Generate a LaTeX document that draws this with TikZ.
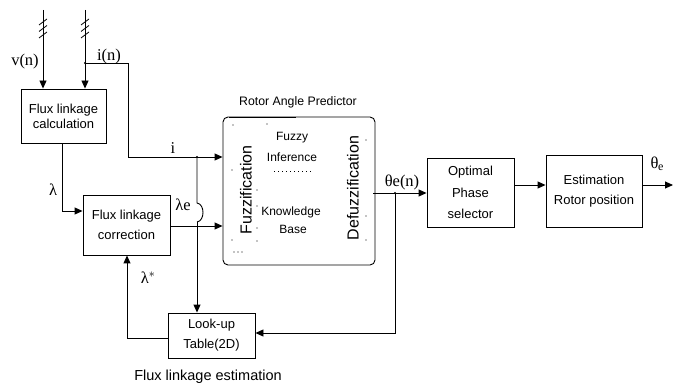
\documentclass[tikz,border=0pt]{standalone}
\usepackage{fontspec}
\setmainfont{Liberation Serif}
\newfontfamily\arialf{Liberation Sans}
\usetikzlibrary{arrows.meta}
\begin{document}
\begin{tikzpicture}[x=1pt,y=-1pt,
  box/.style={draw, line width=0.9pt, font=\arialf\fontsize{13}{20}\selectfont, align=center, inner sep=0pt},
  intext/.style={font=\arialf\fontsize{12}{16}\selectfont, inner sep=0pt},
  rottext/.style={font=\arialf\fontsize{16}{18}\selectfont, inner sep=0pt, rotate=90},
  conn/.style={line width=0.9pt},
  arr/.style={conn, -{Triangle[length=8pt,width=7pt]}},
  lbl/.style={font=\fontsize{16.5}{18}\selectfont, inner sep=0pt},
  hatch/.style={line width=0.8pt},
  jdot/.style={circle, fill, inner sep=0pt, minimum size=2.4pt},
  speck/.style={circle, fill, inner sep=0pt, minimum size=1.3pt},
]
\useasboundingbox (0,0) rectangle (677,387);

% blocks
\node[box, font=\arialf\fontsize{13}{15}\selectfont, minimum width=85pt, minimum height=54pt] (calc) at (63.5,116) {Flux linkage\\calculation};
\node[box, minimum width=87pt, minimum height=60pt] (corr) at (126.5,225) {Flux linkage\\correction};
\node[box, minimum width=87pt, minimum height=45pt] (lut) at (211.5,335.5) {Look-up\\Table(2D)};
\node[box, rounded corners=5pt, minimum width=152pt, minimum height=148pt] (rap) at (299,191) {};
\node[box, font=\arialf\fontsize{13}{21.5}\selectfont, minimum width=87pt, minimum height=69pt] (ops) at (470.5,192.5) {Optimal\\Phase\\selector};
\node[box, minimum width=96pt, minimum height=72pt] (erp) at (594,191) {Estimation\\Rotor position};

% inside rotor angle predictor
\node[rottext] (fuzz) at (246,190) {Fuzzification};
\node[rottext] (defuzz) at (353,188) {Defuzzification};
\node[intext] (fuzzy) at (292,138) {Fuzzy};
\node[intext] (infer) at (292,157) {Inference};
\node[intext] (know) at (291,212) {Knowledge};
\node[intext] (base) at (293,229) {Base};
\draw[line width=1pt, dash pattern=on 1pt off 3pt] (274,172) -- (313,172);
\node[speck] (s1) at (232,170) {};
\node[speck] (s2) at (232,240) {};
\node[speck] (s3) at (257,190) {};
\node[speck] (s4) at (257,206) {};
\node[speck] (s5) at (257,228) {};
\node[speck] (s6) at (257,241) {};
\node[speck] (s7) at (366,140) {};
\node[speck] (s8) at (366,216) {};
\node[speck] (s9) at (366,240) {};
\node[speck] (s10) at (234,252) {};
\node[speck] (s11) at (238,252) {};
\node[speck] (s12) at (242,252) {};
\node[speck] (s13) at (233,125) {};
\node[speck] (s14) at (267,124) {};
\draw[line width=1.3pt] (229,117.6) -- (296,117.6);

% titles
\node[font=\arialf\fontsize{12.3}{14}\selectfont, inner sep=0pt] (raptitle) at (298,102) {Rotor Angle Predictor};
\node[font=\arialf\fontsize{14.5}{16}\selectfont, inner sep=0pt] (estim) at (208,377) {Flux linkage estimation};

% inputs
\coordinate (vtop) at (43,10);
\coordinate (itop) at (85,10);
\draw[arr] (vtop) -- (vtop |- calc.north);
\draw[arr] (itop) -- (itop |- calc.north);
\foreach \xx in {43,85}{
  \draw[hatch] (\xx-4,25) -- (\xx+4,19);
  \draw[hatch] (\xx-4,31.5) -- (\xx+4,25.5);
  \draw[hatch] (\xx-4,38) -- (\xx+4,32);
}
\node[lbl] (vlab) at (25,62) {v(n)};
\node[lbl] (ilab) at (109,57) {i(n)};

% i branch
\coordinate (j1) at (85,63);
\coordinate (c1) at (128,63);
\coordinate (c2) at (128,157);
\coordinate (j2) at (197,157);
\node[jdot] (j1d) at (j1) {};
\node[jdot] (j2d) at (j2) {};
\draw[arr] (j1) -- (c1) -- (c2) -- (c2 -| rap.west);
\node[lbl] (ilab2) at (173,148) {i};

% down to look-up with hop
\coordinate (hopA) at (197,203);
\coordinate (hopB) at (197,222);
\draw[conn] (j2) -- (hopA) .. controls (205,204) and (205,221) .. (hopB);
\draw[arr] (hopB) -- (hopB |- lut.north);

% lambda
\coordinate (c3) at (62,211);
\draw[arr] (calc.south -| c3) -- (c3) -- (c3 -| corr.west);
\node[lbl] (lamlab) at (53,190) {λ};

% lambda e
\coordinate (c4) at (170,226);
\draw[arr] (c4) -- (c4 -| rap.west);
\node[lbl] (lamelab) at (183,205) {λe};

% theta e(n)
\coordinate (c5) at (373,193);
\coordinate (j3) at (395,193);
\node[jdot] (j3d) at (j3) {};
\draw[arr] (c5) -- (c5 -| ops.west);
\node[lbl] (thlab) at (402,182) {θe(n)};
\coordinate (c6) at (395,333);
\draw[arr] (j3) -- (c6) -- (c6 -| lut.east);

% lambda* feedback
\coordinate (c7) at (168,338);
\coordinate (c8) at (127,338);
\draw[arr] (c7) -- (c8) -- (c8 |- corr.south);
\node[lbl] (lamslab) at (148,278) {λ$^{*}$};

% outputs
\coordinate (c9) at (514,185);
\draw[arr] (c9) -- (c9 -| erp.west);
\coordinate (c10) at (642,185);
\coordinate (outend) at (673,185);
\draw[arr] (c10) -- (outend);
\node[lbl] (thout) at (657,164) {θ\kern-0.5pt\raisebox{-2pt}{\fontsize{12}{12}\selectfont e}};
\end{tikzpicture}
\end{document}
